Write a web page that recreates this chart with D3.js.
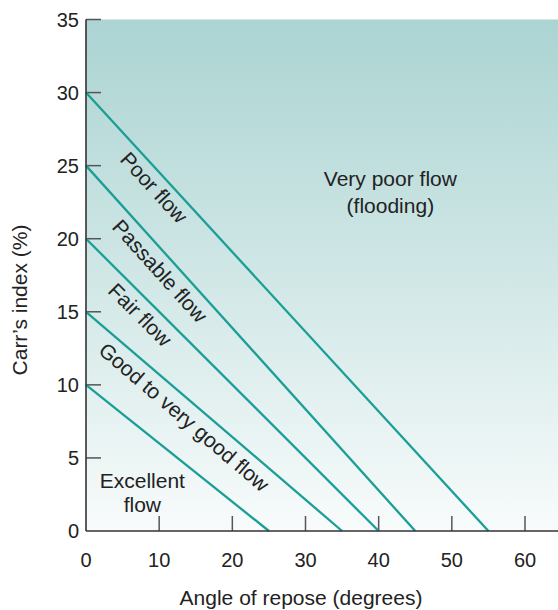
<!DOCTYPE html>
<html><head><meta charset="utf-8">
<script src="https://cdn.jsdelivr.net/npm/d3@7"></script>
<style>body{margin:0;background:#fff}svg{display:block;font-family:"Liberation Sans",Arial,Helvetica,sans-serif}</style>
</head><body><svg id="c" width="558" height="610"></svg>
<script>
const xTicks = [0,10,20,30,40,50,60];
const yTicks = [0,5,10,15,20,25,30,35];
const yIntercepts = [30,25,20,15,10];
const xIntercepts = [55,45,40,35,25];
const bandLabels = ["Poor flow","Passable flow","Fair flow","Good to very good flow"];
const bandLabelX = [9.3,10.1,7.4,13.4];
const bandLabelY = [23.5,17.8,14.8,7.8];

const svg = d3.select("#c");
const x = d3.scaleLinear().domain([0,60]).range([86,525]);
const y = d3.scaleLinear().domain([0,35]).range([531,19.5]);
const xMax = x.invert(558);

const defs = svg.append("defs");
const g = defs.append("linearGradient").attr("id","bg").attr("x1",0).attr("y1",0).attr("x2",0).attr("y2",1);
g.append("stop").attr("offset","0%").attr("stop-color","#abd4d2");
g.append("stop").attr("offset","50%").attr("stop-color","#d0e7e6");
g.append("stop").attr("offset","100%").attr("stop-color","#f8fbfb");

svg.append("rect").attr("x",x(0)).attr("y",y(35)).attr("width",x(xMax)-x(0)).attr("height",y(0)-y(35)).attr("fill","url(#bg)");

// ticks
svg.append("g").selectAll("line").data(yTicks.filter(d=>d>0)).join("line")
  .attr("x1",x(0)).attr("x2",x(0)+15).attr("y1",d=>y(d)).attr("y2",d=>y(d))
  .attr("stroke","#555").attr("stroke-width",1.5);
svg.append("g").selectAll("line").data(xTicks.filter(d=>d>0)).join("line")
  .attr("x1",d=>x(d)).attr("x2",d=>x(d)).attr("y1",y(0)).attr("y2",y(0)-15)
  .attr("stroke","#555").attr("stroke-width",1.5);

// boundary lines
svg.append("g").selectAll("line").data(yIntercepts).join("line")
  .attr("x1",x(0)).attr("y1",d=>y(d))
  .attr("x2",(d,i)=>x(xIntercepts[i])).attr("y2",y(0))
  .attr("stroke","#1b9e97").attr("stroke-width",2.3);

// axes lines
svg.append("line").attr("x1",x(0)).attr("x2",x(0)).attr("y1",y(35)).attr("y2",y(0)).attr("stroke","#333").attr("stroke-width",1.6);
svg.append("line").attr("x1",x(0)).attr("x2",558).attr("y1",y(0)).attr("y2",y(0)).attr("stroke","#333").attr("stroke-width",1.6);

// tick labels
svg.append("g").selectAll("text").data(yTicks).join("text")
  .attr("x",x(0)-7).attr("y",d=>y(d)).attr("dy","0.36em").attr("text-anchor","end")
  .attr("font-size",20).attr("fill","#222").text(d=>d);
svg.append("g").selectAll("text").data(xTicks).join("text")
  .attr("x",d=>x(d)).attr("y",y(0)+36).attr("text-anchor","middle")
  .attr("font-size",20).attr("fill","#222").text(d=>d);

// band labels
bandLabels.forEach((t,i)=>{
  const dx = x(xIntercepts[i]) - x(0), dy = y(0) - y(yIntercepts[i]);
  const ang = Math.atan2(dy,dx)*180/Math.PI;
  svg.append("text").attr("transform",`translate(${x(bandLabelX[i])},${y(bandLabelY[i])}) rotate(${ang})`)
    .attr("text-anchor","middle").attr("dy","0.35em").attr("font-size",21).attr("fill","#222").text(t);
});

// excellent
const ex = svg.append("text").attr("text-anchor","middle").attr("font-size",21).attr("fill","#222");
ex.append("tspan").attr("x",x(7.7)).attr("y",y(2.95)).text("Excellent");
ex.append("tspan").attr("x",x(7.7)).attr("y",y(1.3)).text("flow");

const vp = svg.append("text").attr("text-anchor","middle").attr("font-size",21).attr("fill","#222");
vp.append("tspan").attr("x",x(41.6)).attr("y",y(23.6)).text("Very poor flow");
vp.append("tspan").attr("x",x(41.6)).attr("y",y(21.75)).text("(flooding)");

// axis titles
svg.append("text").attr("transform","translate(27,300) rotate(-90)").attr("text-anchor","middle")
  .attr("font-size",21).attr("fill","#222").text("Carr’s index (%)");
svg.append("text").attr("x",301).attr("y",605).attr("text-anchor","middle")
  .attr("font-size",21).attr("fill","#222").text("Angle of repose (degrees)");
</script></body></html>
